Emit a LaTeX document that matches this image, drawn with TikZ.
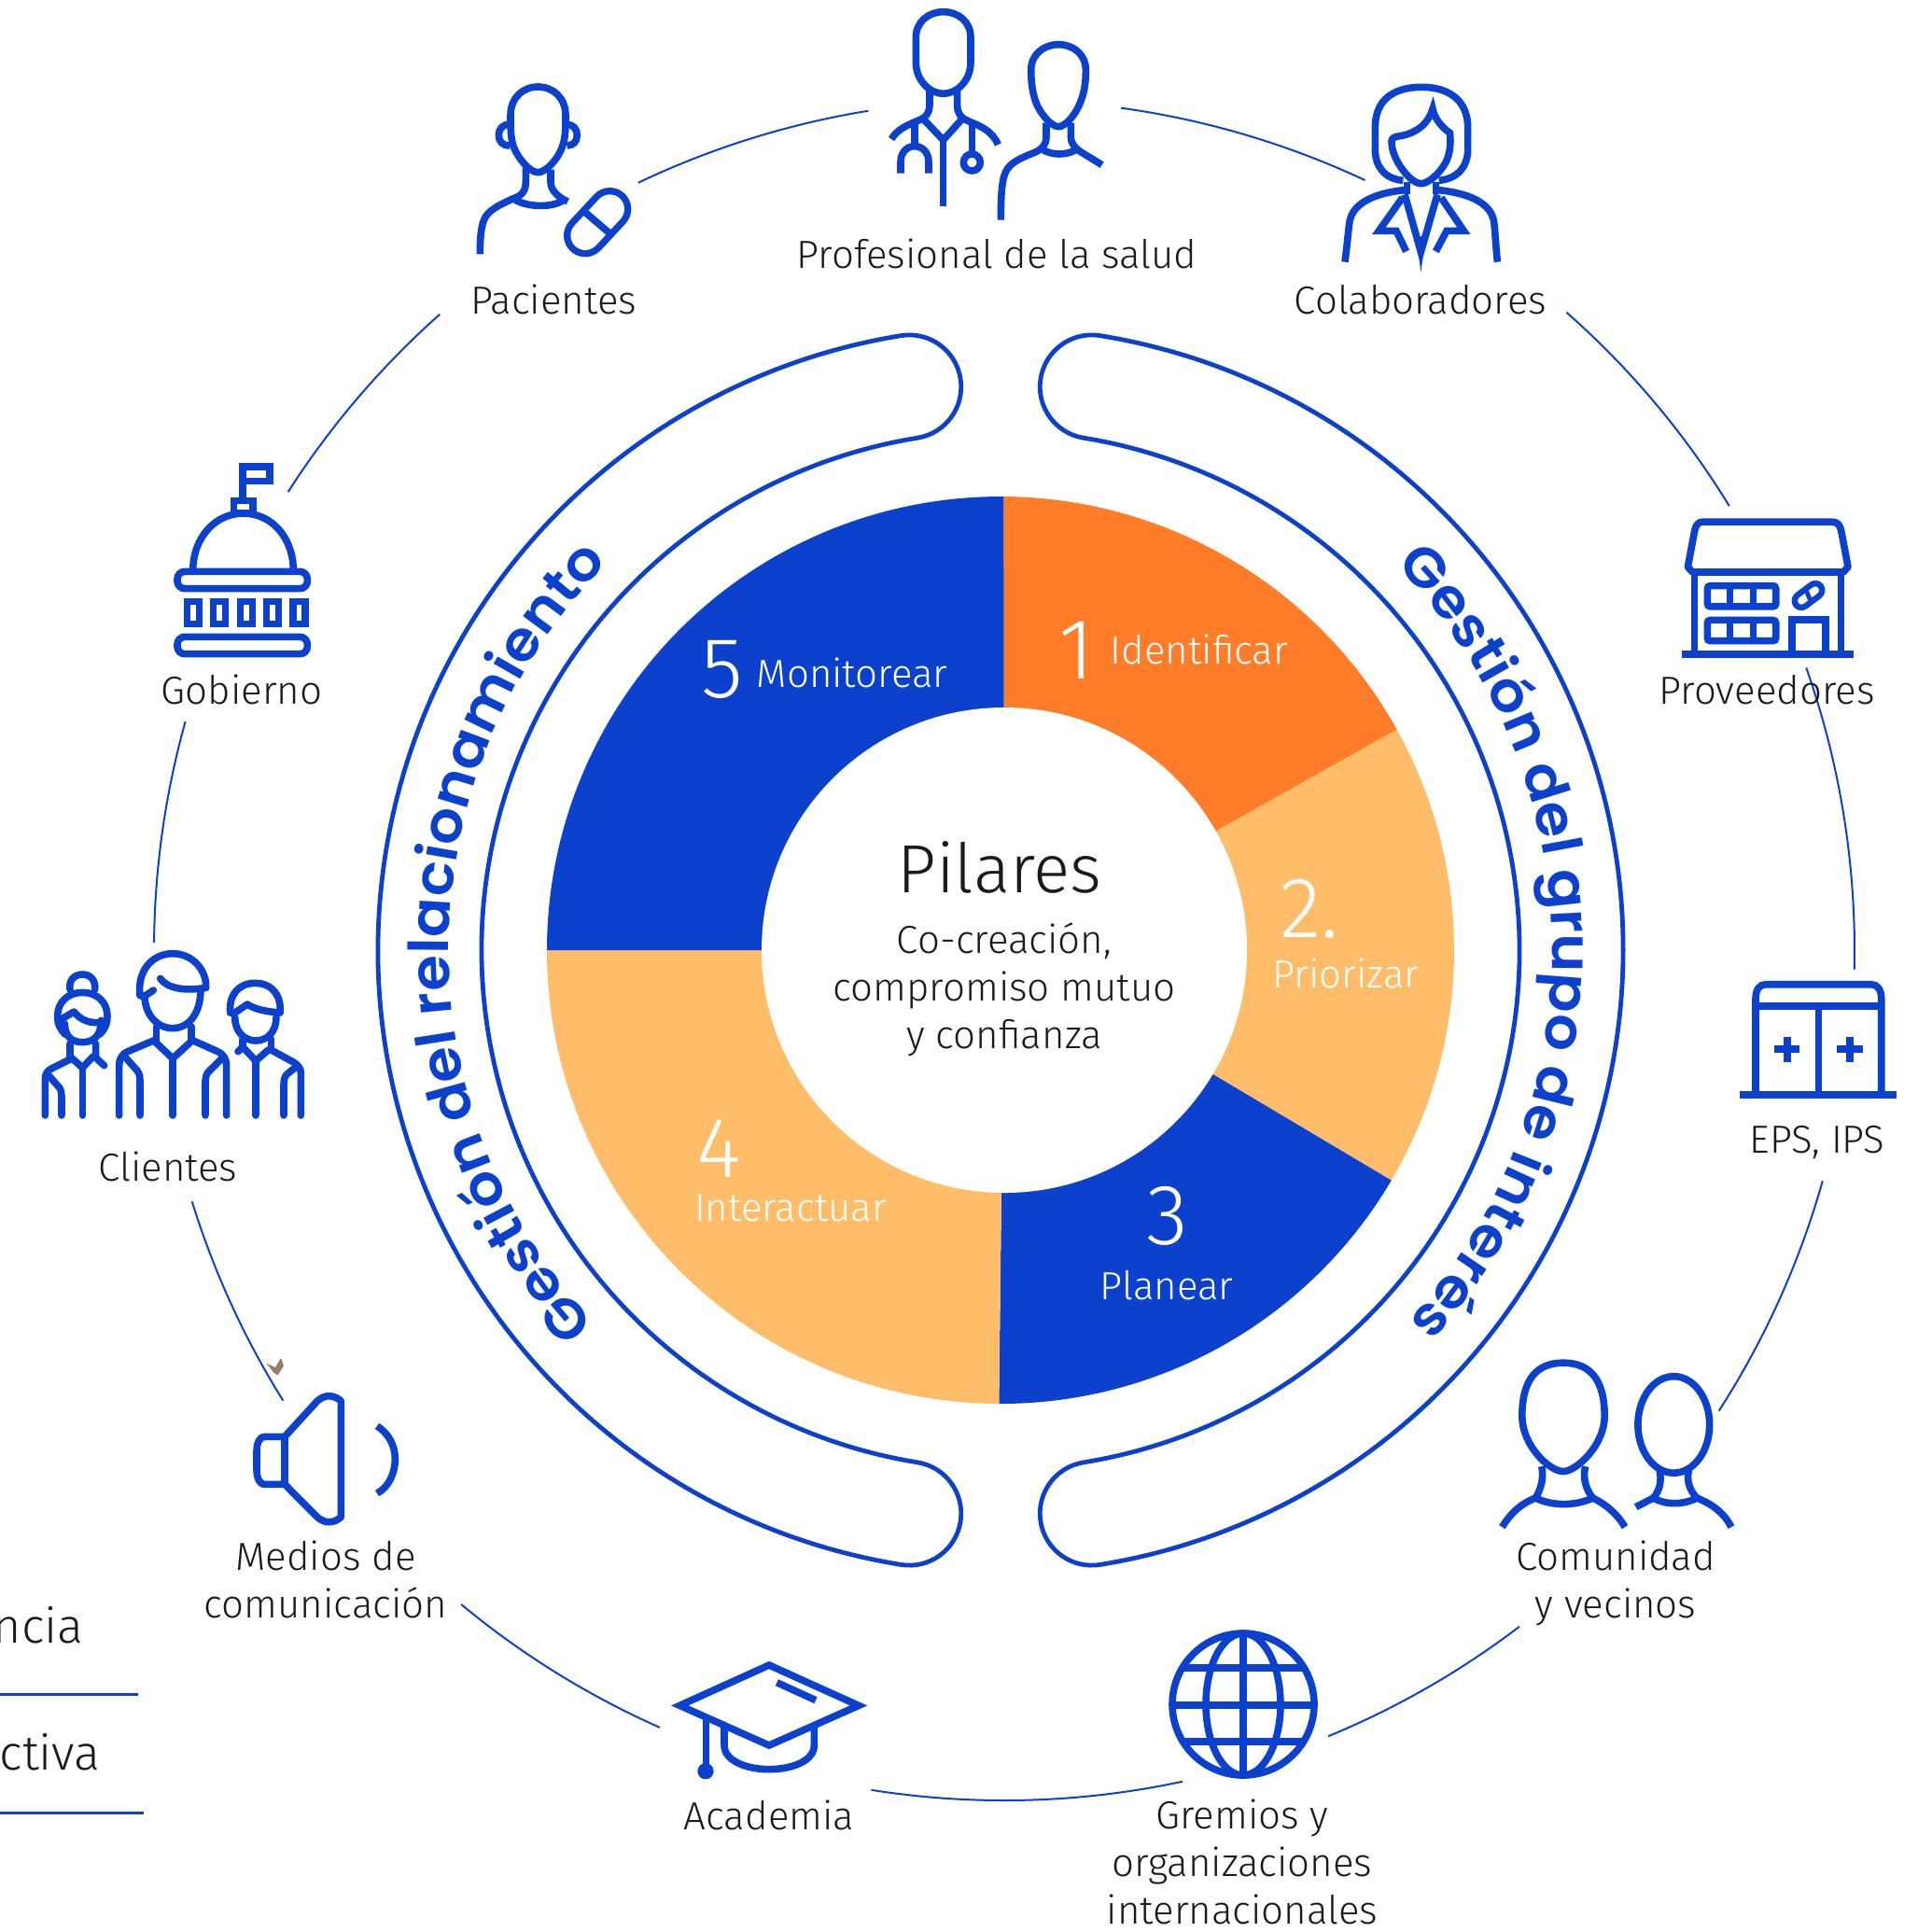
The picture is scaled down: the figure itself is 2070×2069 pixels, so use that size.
\documentclass[tikz,border=0pt]{standalone}
\usepackage{fontspec}
\usetikzlibrary{decorations.text,calc}
\setmainfont{Fira Sans}[UprightFont=* Light]
\newfontfamily\gfont{Poppins}[UprightFont=* SemiBold,FakeStretch=1.06]
\definecolor{rsblue}{HTML}{0B41CD}
\definecolor{rsorange}{HTML}{FF7D29}
\definecolor{rspeach}{HTML}{FFBD69}
\definecolor{rsink}{HTML}{1A1A1A}
\tikzset{
  ico/.style={draw=rsblue,line width=3.8pt,miter limit=10},
  rico/.style={draw=rsblue,line width=3.8pt,line cap=round,line join=round},
  ring/.style={draw=rsblue,line width=2.4pt},
  conn/.style={draw=rsblue,line width=1pt},
  lab/.style={font=\fontsize{21}{25.5}\selectfont,text=rsink,align=center,inner sep=0pt,text height=15.7pt,text depth=5.2pt,yshift=-2.5pt},
  lgd/.style={font=\fontsize{26}{26}\selectfont,text=rsink,inner sep=0pt,text height=15.7pt,text depth=5.2pt,anchor=east,yshift=-3.5pt},
  wlab/.style={font=\fontsize{21}{25.5}\selectfont,text=white,align=center,inner sep=0pt,text height=15.7pt,text depth=5.2pt,yshift=-2pt},
  wnum/.style={font=\fontsize{46}{46}\selectfont,text=white,inner sep=0pt},
  arctext/.style={decorate,decoration={text along path,text align=center,text={#1}}},
}
\begin{document}
\begin{tikzpicture}[x=0.5pt,y=-0.5pt]
\useasboundingbox (0,0) rectangle (2070,2069);
\fill[white] (0,0) rectangle (2070,2069);
\coordinate (cc) at (1076,1018);
\coordinate (cr) at (1072,1018);
% connector arcs
\foreach \n/\a/\b in {1/244.5/260.8,2/277.9/295.1,3/311.4/328.5,4/340.6/361.3,5/15.75/32.8,6/52.7/67.6,7/77.9/99,8/113.9/129.7,9/148/162.8,10/180.5/195.6,11/212.6/228.4}{
  \coordinate (k\n) at ([shift={(cc)}]\a:911);
  \draw[conn] (k\n) arc[start angle=\a,end angle=\b,radius=911];
}
% pie
\fill[rsorange] (cc) -- ([shift={(cr)}]270.4:486) arc[start angle=270.4,end angle=330.9,radius=486] -- cycle;
\fill[rspeach] (cc) -- ([shift={(cr)}]330.9:486) arc[start angle=330.9,end angle=390.5,radius=486] -- cycle;
\fill[rsblue] (cc) -- ([shift={(cr)}]30.5:486) arc[start angle=30.5,end angle=90.2,radius=486] -- cycle;
\fill[rspeach] (cc) -- ([shift={(cr)}]90.2:486) arc[start angle=90.2,end angle=180,radius=486] -- cycle;
\fill[rsblue] (cc) -- ([shift={(cr)}]180:486) arc[start angle=180,end angle=270.4,radius=486] -- cycle;
\fill[white] (cc) circle[radius=260];
% rings
\draw[ring] ([shift={(cr)}]99.2:667) arc[start angle=99.2,end angle=260.8,radius=667]
  arc[start angle=260.8,end angle=440.8,radius=55.5]
  arc[start angle=260.8,end angle=99.2,radius=556]
  arc[start angle=279.2,end angle=459.2,radius=55.5] -- cycle;
\draw[ring] ([shift={(cr)}]279.2:667) arc[start angle=279.2,end angle=440.8,radius=667]
  arc[start angle=80.8,end angle=260.8,radius=55.5]
  arc[start angle=440.8,end angle=279.2,radius=556]
  arc[start angle=99.2,end angle=279.2,radius=55.5] -- cycle;
% curved text
\path[arctext={|\gfont\fontsize{29.5}{30}\selectfont\color{rsblue}|Gestión del relacionamiento}] ([shift={(cr)}]131:591) arc[start angle=131,end angle=231,radius=591];
\path[arctext={|\gfont\fontsize{29.5}{30}\selectfont\color{rsblue}|Gestión del grupo de interés}] ([shift={(cr)}]-50:591) arc[start angle=-50,end angle=48,radius=591];
% centre text
\node[font=\fontsize{36.5}{38}\selectfont,text=rsink,inner sep=0pt] (pil) at (1071,929) {Pilares};
\node[lab] (sub) at (1076,1108) {Co-creación,\\compromiso mutuo\\y confianza};
% pie labels
\node[wnum] (n1) at (1153,697) {1};
\node[wlab] (t1) at (1285,697) {Identificar};
\node[wnum] (n5) at (774,717) {5};
\node[wlab] (t5) at (913,722) {Monitorear};
\node[wnum] (n2) at (1403,974) {2.};
\node[wlab] (t2) at (1442,1044) {Priorizar};
\node[wnum] (n3) at (1251,1303) {3};
\node[wlab] (t3) at (1250,1378) {Planear};
\node[wnum] (n4) at (770,1230) {4};
\node[wlab] (t4) at (847,1294) {Interactuar};
% outer labels
\node[lab] (lpac) at (593,321) {Pacientes};
\node[lab] (lpro) at (1068,272) {Profesional de la salud};
\node[lab] (lcol) at (1522,321) {Colaboradores};
\node[lab] (lprv) at (1893,739) {Proveedores};
\node[lab] (leps) at (1947,1220) {EPS, IPS};
\node[lab] (lcom) at (1731,1718) {Comunidad\\y vecinos};
\node[lab] (lgre) at (1331,2046) {Gremios y\\organizaciones\\internacionales};
\node[lab] (laca) at (824,1945) {Academia};
\node[lab] (lmed) at (349,1718) {Medios de\\comunicación};
\node[lab] (lcli) at (180,1250) {Clientes};
\node[lab] (lgob) at (259,739) {Gobierno};
\node[lgd] (lg1) at (90,1743) {ncia};
\node[lgd] (lg2) at (108,1879) {ctiva};
\coordinate (r1a) at (0,1815); \coordinate (r1b) at (148,1815);
\coordinate (r2a) at (0,1942); \coordinate (r2b) at (154,1942);
\draw[rsblue,line width=1.5pt] (r1a) -- (r1b);
\draw[rsblue,line width=1.5pt] (r2a) -- (r2b);
% Pacientes
\begin{scope}[shift={(500,80)},x=.16667pt,y=-.16667pt]
\draw[ico] (141,130) .. controls (141,75) and (180,39) .. (229,39) .. controls (278,39) and (318,75) .. (318,130) .. controls (318,170) and (318,200) .. (308,230) .. controls (295,270) and (255,314) .. (229,314) .. controls (203,314) and (165,270) .. (150,230) .. controls (141,200) and (141,170) .. (141,130) -- cycle;
\draw[ico] (138,160) .. controls (115,160) and (103,175) .. (103,194) .. controls (103,215) and (115,228) .. (138,228);
\draw[ico] (322,160) .. controls (343,160) and (355,175) .. (355,194) .. controls (355,215) and (343,228) .. (322,228);
\draw[ico] (190,300) -- (190,345) .. controls (190,375) and (175,390) .. (150,398) .. controls (120,412) and (90,425) .. (70,445) .. controls (48,465) and (43,510) .. (43,577);
\draw[ico] (270,305) -- (270,345) .. controls (270,370) and (290,392) .. (325,408);
\draw[ico] (150,398) .. controls (185,425) and (270,430) .. (308,405);
\draw[rsblue,line width=23pt,line cap=round] (381,517) -- (460,432);
\draw[white,line width=15.6pt,line cap=round] (381,517) -- (460,432);
\draw[ico] (378,440) -- (462,512);
\end{scope}
% Profesional
\begin{scope}[shift={(940,0)},x=.16667pt,y=-.16667pt]
\draw[ico] (124,120) .. controls (124,70) and (165,38) .. (212,38) .. controls (260,38) and (300,70) .. (300,120) -- (300,200) .. controls (300,260) and (255,301) .. (212,301) .. controls (170,301) and (124,260) .. (124,200) -- cycle;
\draw[ico] (168,290) -- (168,335) .. controls (168,365) and (155,378) .. (130,388) .. controls (95,403) and (65,415) .. (45,447);
\draw[ico] (257,290) -- (257,340) .. controls (257,365) and (270,380) .. (290,388) .. controls (330,405) and (370,420) .. (388,465);
\draw[ico] (150,385) -- (212,450) -- (270,385);
\draw[ico] (212,450) -- (212,662);
\draw[ico] (120,400) -- (120,470);
\draw[ico] (75,557) -- (75,520) .. controls (75,490) and (95,470) .. (120,470) .. controls (145,470) and (165,490) .. (165,520) -- (165,557);
\draw[ico] (304,400) -- (304,495);
\draw[ico] (304,522) circle[radius=27];
\draw[ico] (494,225) .. controls (494,175) and (535,143) .. (582,143) .. controls (630,143) and (670,175) .. (670,225) .. controls (670,270) and (665,300) .. (650,335) .. controls (635,370) and (605,407) .. (582,407) .. controls (560,407) and (528,370) .. (512,335) .. controls (500,305) and (494,270) .. (494,225) -- cycle;
\draw[ico] (543,395) -- (543,440) .. controls (543,465) and (530,478) .. (510,488) .. controls (470,505) and (440,515) .. (420,540) .. controls (400,565) and (397,620) .. (397,707);
\draw[ico] (622,395) -- (622,440) .. controls (622,465) and (640,480) .. (660,492) -- (722,530);
\draw[ico] (530,480) .. controls (560,500) and (610,500) .. (640,480);
\end{scope}
% Colaboradores
\begin{scope}[shift={(1420,80)},x=.16667pt,y=-.16667pt]
\draw[ico] (250,340) .. controls (190,335) and (160,295) .. (160,240) -- (160,170) .. controls (160,80) and (220,40) .. (310,40) .. controls (400,40) and (458,85) .. (458,170) -- (458,240) .. controls (458,295) and (425,335) .. (365,340);
\draw[ico] (213,215) .. controls (213,205) and (220,200) .. (235,198) .. controls (290,190) and (330,160) .. (345,110) .. controls (350,140) and (375,170) .. (400,187) .. controls (405,220) and (400,260) .. (385,285) .. controls (365,320) and (330,350) .. (308,350) .. controls (285,350) and (255,320) .. (235,285) .. controls (220,260) and (213,235) .. (213,215) -- cycle;
\draw[ico] (262,345) -- (262,385);
\draw[ico] (355,345) -- (355,385);
\draw[ico] (262,370) .. controls (180,378) and (110,400) .. (85,450) .. controls (75,470) and (78,480) .. (63,602);
\draw[ico] (355,370) .. controls (440,378) and (510,400) .. (535,450) .. controls (545,470) and (542,480) .. (553,602);
\draw[ico] (255,385) -- (307,570) -- (360,385);
\fill[rsblue] (292,520) -- (322,520) -- (307,635) -- cycle;
\draw[ico] (248,395) -- (172,502) -- (228,502) -- (260,568);
\draw[ico] (372,395) -- (445,502) -- (390,502) -- (355,568);
\end{scope}
% Proveedores & EPS
\begin{scope}[shift={(1700,520)},x=.16667pt,y=-.236pt]
\draw[ico,line join=round] (372,83) -- (790,83) .. controls (805,83) and (815,90) .. (818,103) -- (840,185) -- (825,197) -- (340,197) -- (325,185) -- (347,103) .. controls (350,90) and (360,83) .. (372,83) -- cycle;
\draw[ico] (347,197) -- (347,383);
\draw[ico] (817,197) -- (817,383);
\draw[ico] (305,383) -- (858,383);
\draw[ico,rounded corners=1.5pt] (388,228) rectangle (608,275);
\draw[ico,rounded corners=1.5pt] (388,306) rectangle (608,353);
\draw[ico] (460,228) -- (460,275); \draw[ico] (535,228) -- (535,275);
\draw[ico] (460,306) -- (460,353); \draw[ico] (535,306) -- (535,353);
\draw[ico] (660,383) -- (660,305) -- (767,305) -- (767,383);
\draw[rsblue,line width=10.5pt,line cap=round] (690,262) -- (735,238);
\draw[white,line width=4pt,line cap=round] (690,262) -- (735,238);
\draw[rsblue,line width=2.4pt] (705,238) -- (722,266);
\draw[ico] (543,1383) -- (543,1165) .. controls (543,1145) and (555,1133) .. (575,1133) -- (915,1133) .. controls (935,1133) and (947,1145) .. (947,1165) -- (947,1383);
\draw[ico] (543,1182) -- (947,1182);
\draw[ico] (745,1182) -- (745,1383);
\draw[ico] (492,1383) -- (997,1383);
\draw[ico] (603,1280) -- (685,1280); \draw[ico] (644,1252) -- (644,1310);
\draw[ico] (805,1280) -- (887,1280); \draw[ico] (846,1252) -- (846,1310);
\end{scope}
% Comunidad
\begin{scope}[shift={(1200,1420)},x=.2232pt,y=-.207pt]
\draw[ico] (965,235) .. controls (965,140) and (1000,97) .. (1064,97) .. controls (1128,97) and (1163,140) .. (1163,235) .. controls (1163,310) and (1095,378) .. (1064,378) .. controls (1030,378) and (965,310) .. (965,235) -- cycle;
\draw[ico] (1012,365) .. controls (1018,395) and (1010,425) .. (997,447);
\draw[ico] (1117,365) .. controls (1110,395) and (1118,425) .. (1135,447);
\draw[ico] (917,522) .. controls (935,490) and (960,462) .. (997,447) .. controls (1040,468) and (1090,468) .. (1135,447) .. controls (1165,462) and (1195,490) .. (1212,522);
\draw[ico] (1329,257) ellipse[x radius=86,y radius=125];
\draw[ico] (1295,375) .. controls (1300,400) and (1297,425) .. (1280,447);
\draw[ico] (1365,375) .. controls (1360,400) and (1365,425) .. (1385,447);
\draw[ico] (1238,470) -- (1280,447) .. controls (1310,465) and (1350,465) .. (1385,447) .. controls (1420,462) and (1450,485) .. (1467,522);
\end{scope}
% Globe
\draw[ico] (1332,1826) circle[radius=76];
\draw[ico] (1332,1826) ellipse[x radius=40,y radius=76];
\draw[ico] (1332,1750) -- (1332,1902);
\draw[ico] (1256,1827) -- (1408,1827);
\draw[ico] (1267,1787) -- (1397,1787);
\draw[ico] (1267,1866) -- (1397,1866);
% Academia
\begin{scope}[shift={(700,1760)},x=.16667pt,y=-.16667pt]
\draw[ico] (372,72) -- (660,202) -- (372,330) -- (85,202) -- cycle;
\draw[ico] (397,128) -- (522,185);
\draw[ico] (170,250) -- (170,415);
\fill[rsblue] (168,413) circle[radius=26];
\draw[ico] (228,270) -- (228,330) .. controls (228,380) and (300,407) .. (372,407) .. controls (445,407) and (517,380) .. (517,330) -- (517,270);
\end{scope}
% Gobierno
\begin{scope}[shift={(140,480)},x=.16667pt,y=-.16667pt]
\draw[ico] (360,170) -- (360,60) -- (447,60) -- (447,106) -- (360,106);
\draw[ico] (332,170) rectangle (393,208);
\draw[ico] (200,395) .. controls (200,290) and (270,210) .. (362,210) .. controls (455,210) and (523,290) .. (523,395);
\draw[ico,rounded corners=4pt] (150,397) rectangle (568,452);
\draw[ico,rounded corners=4pt] (150,607) rectangle (568,662);
\foreach \xa in {181,266,352,437,522}{\draw[ico] (\xa,494) rectangle ++(39,71);}
\end{scope}
% Clientes
\begin{scope}[shift={(30,1010)},x=.16667pt,y=-.16667pt]
\draw[rico] (360,170) .. controls (350,90) and (400,35) .. (465,35) .. controls (530,35) and (575,90) .. (572,145);
\draw[rico] (425,115) .. controls (450,150) and (510,155) .. (572,145);
\draw[rico] (370,175) -- (403,153);
\draw[rico] (375,170) .. controls (375,230) and (415,275) .. (465,275) .. controls (515,275) and (555,230) .. (555,150);
\draw[rico] (412,270) -- (412,315);
\draw[rico] (525,270) -- (525,315);
\draw[rico] (410,320) -- (465,372) -- (522,320);
\draw[rico] (410,312) -- (320,350) .. controls (300,360) and (293,375) .. (293,395) -- (293,555);
\draw[rico] (525,312) -- (610,350) .. controls (630,360) and (638,375) .. (638,395) -- (638,555);
\draw[rico] (465,372) -- (465,555);
\draw[rico] (310,365) -- (350,410) .. controls (358,420) and (360,430) .. (360,445) -- (360,555);
\draw[rico] (625,370) -- (580,415) .. controls (572,425) and (570,435) .. (570,445) -- (570,555);
% woman
\draw[rico] (135,150) .. controls (130,120) and (150,102) .. (175,102) .. controls (200,102) and (218,120) .. (215,150);
\draw[rico] (120,295) .. controls (105,280) and (95,265) .. (95,235) .. controls (95,190) and (130,160) .. (175,160) .. controls (220,160) and (255,190) .. (255,235) .. controls (255,265) and (245,280) .. (230,295);
\draw[rico] (100,250) -- (148,222) .. controls (170,250) and (200,262) .. (245,255);
\draw[rico] (118,260) .. controls (118,300) and (140,320) .. (175,320) .. controls (210,320) and (235,300) .. (235,250);
\draw[rico] (135,325) -- (135,365);
\draw[rico] (218,325) -- (218,370) -- (245,395);
\draw[rico] (140,370) -- (175,402) -- (210,365);
\draw[rico] (135,375) -- (75,405) .. controls (60,412) and (55,425) .. (55,440) -- (55,555);
\draw[rico] (175,402) -- (175,555);
\draw[rico] (65,425) -- (100,465) .. controls (107,475) and (108,485) .. (108,495) -- (108,555);
% right man
\draw[rico] (650,225) .. controls (645,170) and (675,130) .. (730,130) .. controls (785,130) and (815,170) .. (810,225);
\draw[rico] (650,225) -- (665,225) -- (705,198) .. controls (730,215) and (770,222) .. (810,225);
\draw[rico] (665,240) .. controls (665,285) and (695,315) .. (732,315) .. controls (770,315) and (798,285) .. (798,240);
\draw[rico] (690,310) -- (690,335) -- (675,350);
\draw[rico] (782,310) -- (782,340);
\draw[rico] (695,340) -- (732,380) -- (772,345);
\draw[rico] (782,345) -- (855,385) .. controls (870,395) and (877,405) .. (877,420) -- (877,555);
\draw[rico] (732,380) -- (732,555);
\draw[rico] (860,400) -- (830,425) .. controls (823,435) and (822,445) .. (822,455) -- (822,555);
\end{scope}
% Medios
\begin{scope}[shift={(0,997)},x=.16667pt,y=-.319pt]
\draw[ico,line join=round] (915,850) -- (1020,790) .. controls (1045,778) and (1075,780) .. (1096,790) -- (1096,985) .. controls (1075,995) and (1045,997) .. (1020,985) -- (915,930) -- cycle;
\draw[ico,line join=round] (915,850) -- (850,850) .. controls (835,850) and (825,860) .. (825,875) -- (825,905) .. controls (825,920) and (835,930) .. (850,930) -- (915,930);
\draw[ico] (1212,832) .. controls (1250,845) and (1270,865) .. (1270,888) .. controls (1270,910) and (1250,935) .. (1212,945);
\end{scope}
\begin{scope}[shift={(0,1000)},x=.16667pt,y=-.319pt]
\fill[black!45!brown!70!white] (857,722) -- (885,729) -- (903,713) -- (912,726) -- (893,742) -- (880,738) -- cycle;
\end{scope}
\end{tikzpicture}
\end{document}
